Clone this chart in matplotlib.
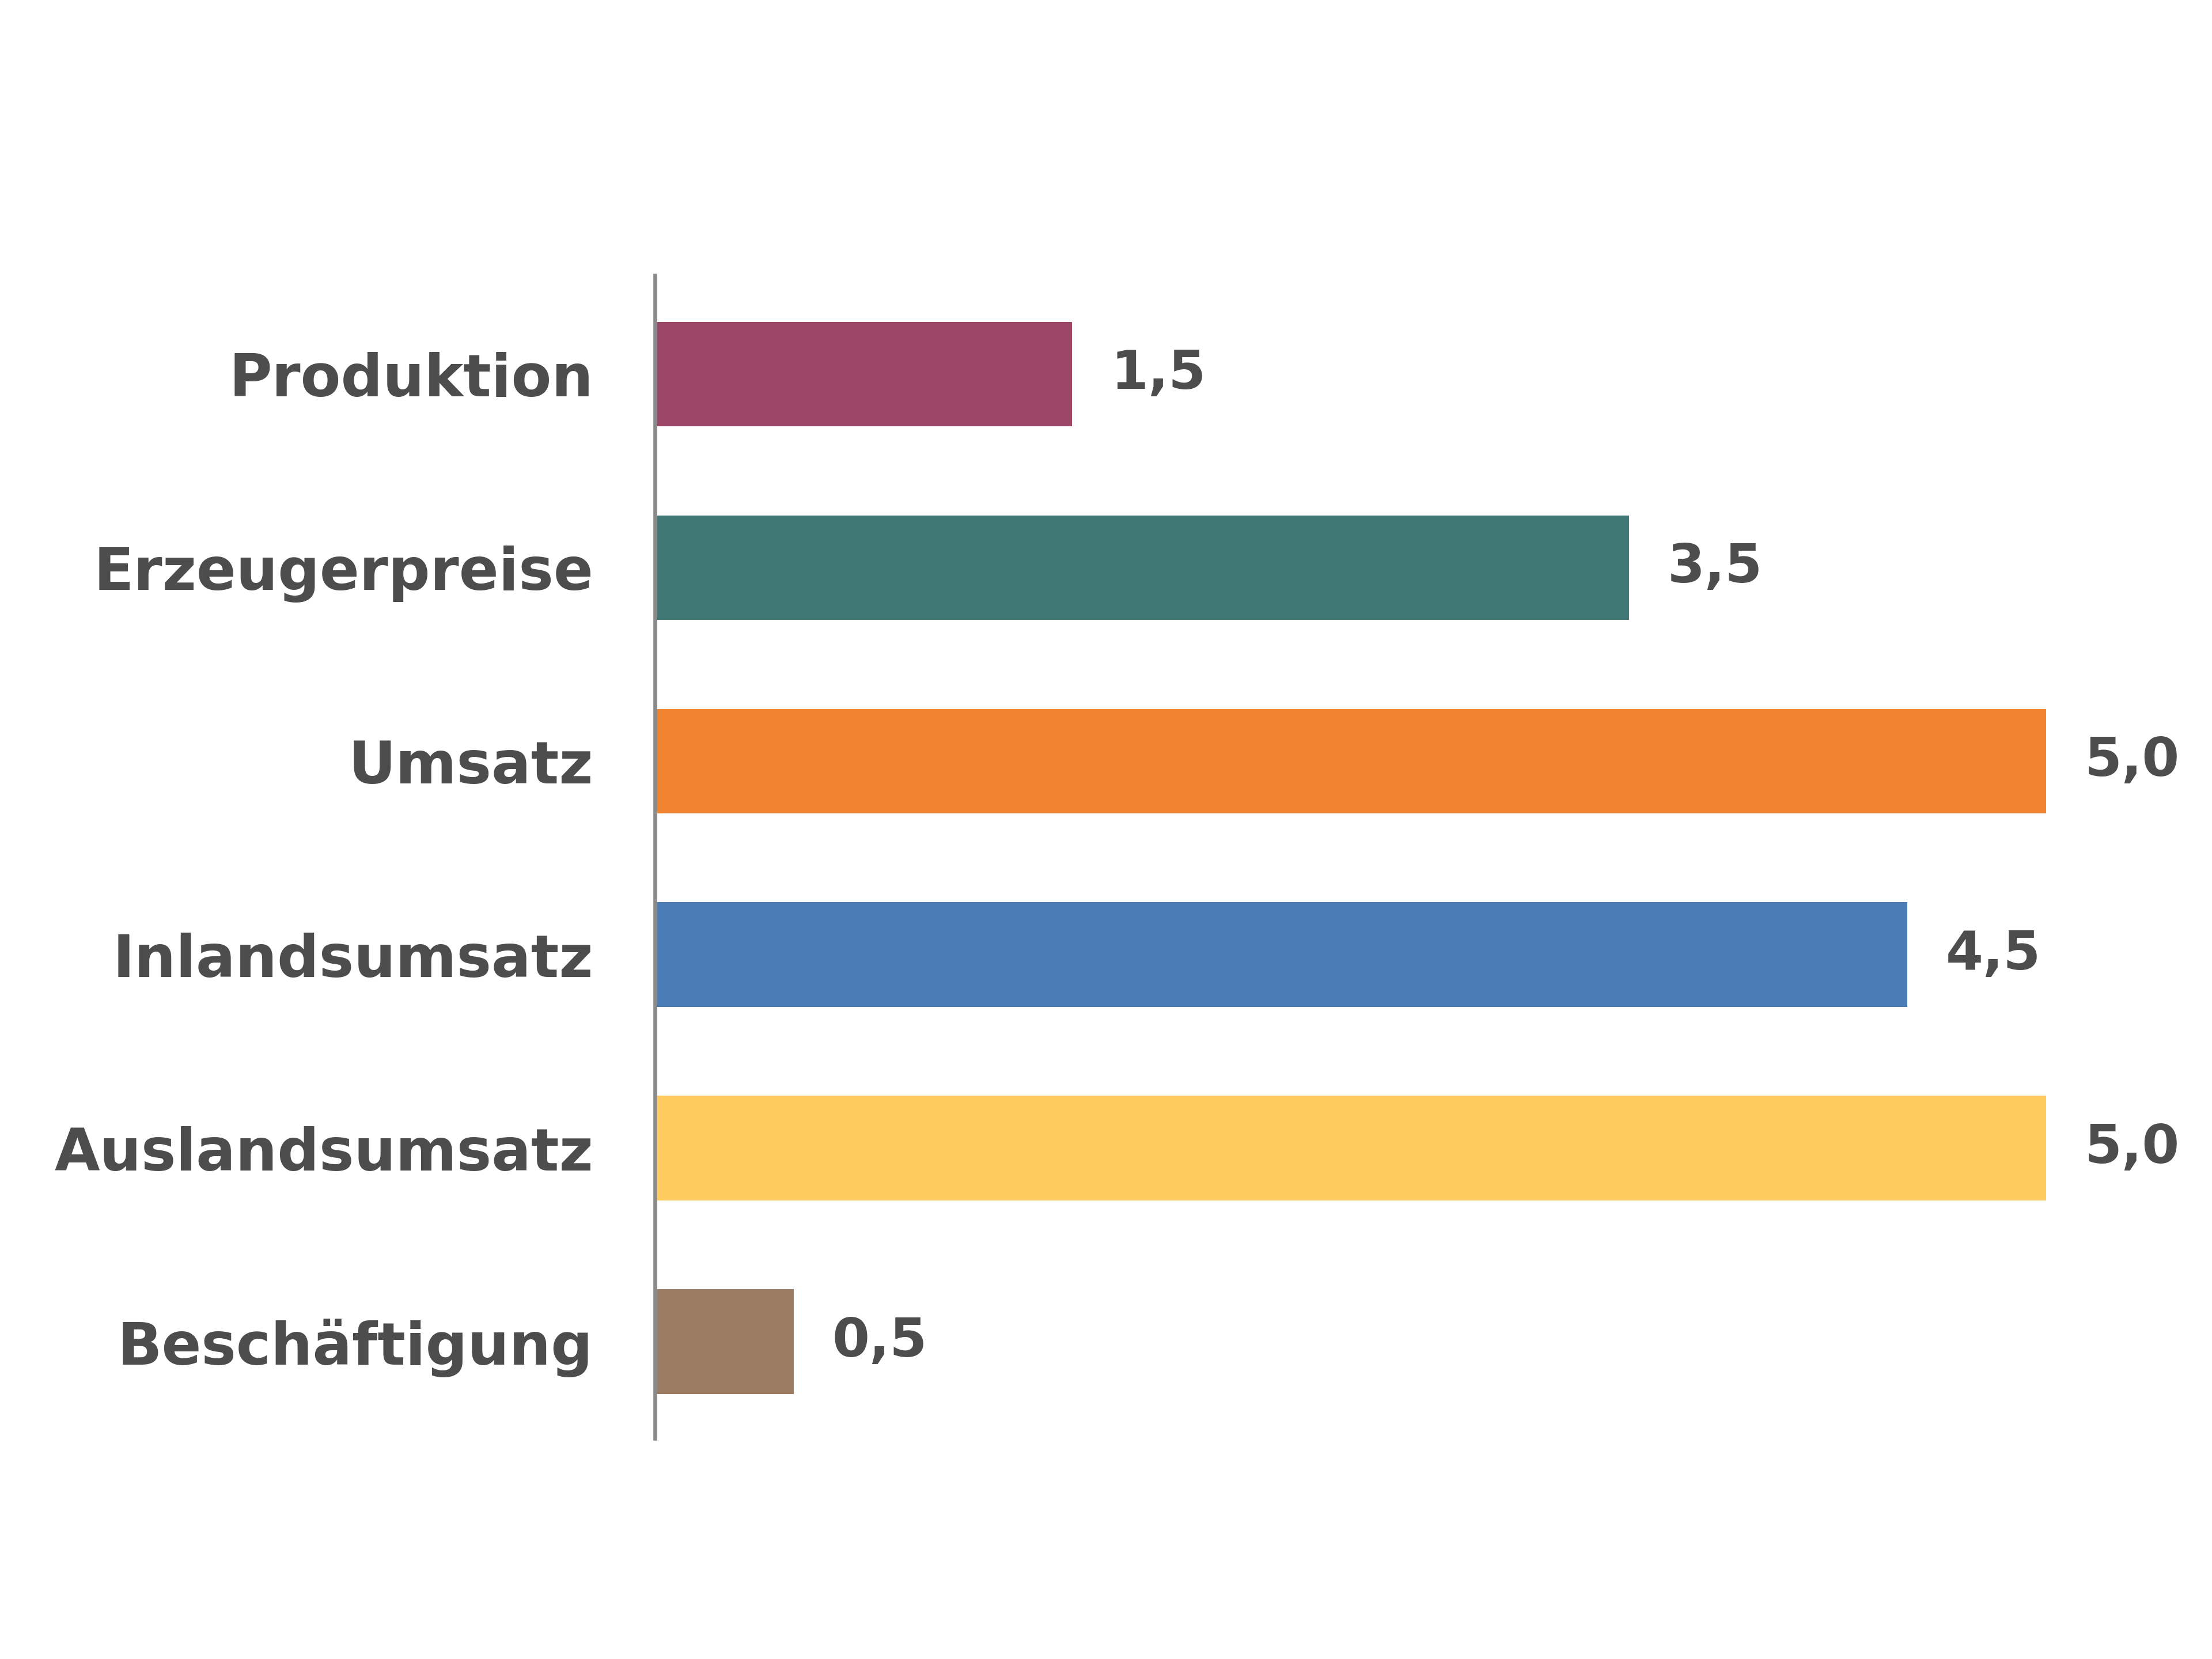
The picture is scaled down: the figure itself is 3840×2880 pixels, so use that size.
import matplotlib.pyplot as plt

categories = ["Produktion", "Erzeugerpreise", "Umsatz", "Inlandsumsatz",
              "Auslandsumsatz", "Beschäftigung"]
values = [1.5, 3.5, 5.0, 4.5, 5.0, 0.5]
value_labels = ["1,5", "3,5", "5,0", "4,5", "5,0", "0,5"]
colors = ["#9b4666", "#3f7775", "#f08431", "#4a7db5", "#fdcb5e", "#9c7d63"]

text_color = "#4d4d4d"

fig = plt.figure(figsize=(16, 12), dpi=240)
ax = fig.add_axes([0.296, 0.133, 0.692, 0.701])

pos = list(range(len(categories)))
ax.barh(pos, values, height=0.54, color=colors)

# value labels next to the bars
for p, v, lab in zip(pos, values, value_labels):
    ax.annotate(lab, (v, p), xytext=(20, 0), textcoords="offset points",
                ha="left", va="center", fontsize=28, fontweight="bold",
                color=text_color)

ax.set_xlim(0, 5.5)
ax.set_ylim(5.5, -0.51)
ax.set_yticks(pos)
ax.set_yticklabels(categories, fontsize=30.5, fontweight="bold", color=text_color)
ax.tick_params(axis="y", length=0, pad=32)
ax.set_xticks([])

for side in ["top", "right", "bottom"]:
    ax.spines[side].set_visible(False)
ax.spines["left"].set_color("#8a8a8a")
ax.spines["left"].set_linewidth(2)

fig.savefig("out.png", dpi=240, facecolor="white")
